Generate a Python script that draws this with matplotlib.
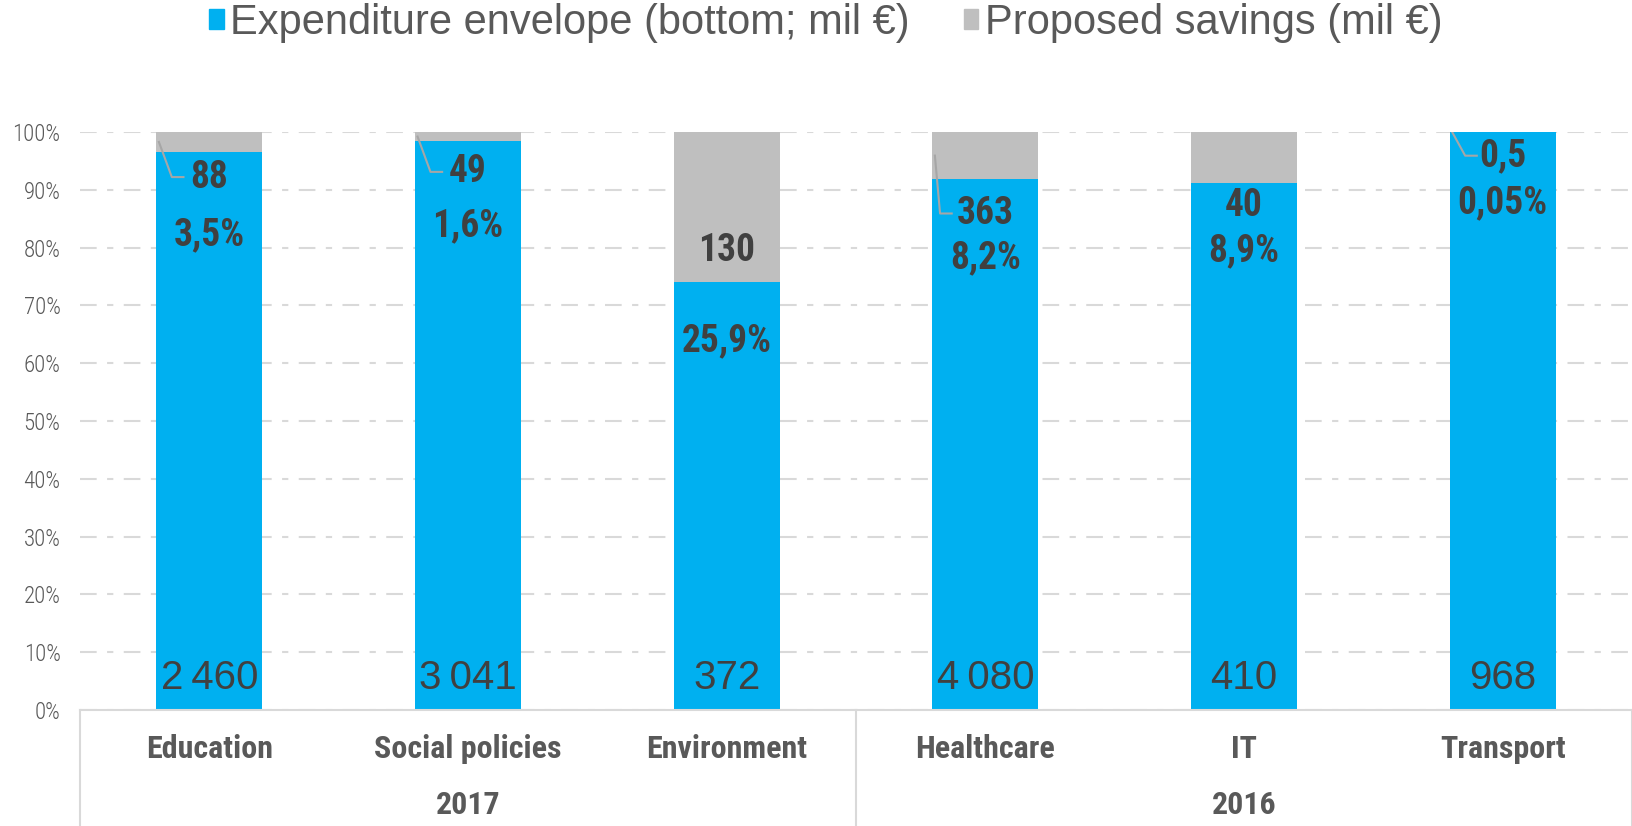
import matplotlib
matplotlib.use('Agg')
import matplotlib.pyplot as plt
from matplotlib.patches import Patch

# 窄体字体优先, 找不到就退回普通字体
narrow = ['Roboto Condensed', 'Archivo Narrow', 'Liberation Sans', 'DejaVu Sans']
plain = ['Liberation Sans', 'DejaVu Sans']
plt.rcParams['font.family'] = narrow
plt.rcParams['axes.unicode_minus'] = False

categories = ['Education', 'Social policies', 'Environment', 'Healthcare', 'IT', 'Transport']
years = ['2017', '2016']
expenditure = [2460, 3041, 372, 4080, 410, 968]
savings = [88, 49, 130, 363, 40, 0.5]
exp_labels = ['2\u2009460', '3\u2009041', '372', '4\u2009080', '410', '968']
sav_labels = ['88', '49', '130', '363', '40', '0,5']
pct_labels = ['3,5%', '1,6%', '25,9%', '8,2%', '8,9%', '0,05%']

# 标签的位置 (手动摆放)
sav_y = [0.922, 0.931, 0.795, 0.859, 0.872, 0.959]
pct_y = [0.823, 0.838, 0.638, 0.782, 0.795, 0.877]
leader = [True, True, False, True, False, True]

blue = '#00B0F0'
grey = '#BFBFBF'
dark = '#404040'
mid = '#595959'
line_c = '#D9D9D9'

total = [e + s for e, s in zip(expenditure, savings)]
share_exp = [e / t for e, t in zip(expenditure, total)]
share_sav = [s / t for s, t in zip(savings, total)]
x = list(range(len(categories)))
w = 0.41

fig = plt.figure(figsize=(16.32, 8.26), dpi=100)
ax = fig.add_axes([80 / 1632, 116 / 826, 1 - 80 / 1632, 578 / 826])

ax.bar(x, share_exp, width=w, color=blue, zorder=2)
ax.bar(x, share_sav, width=w, bottom=share_exp, color=grey, zorder=2)

ax.set_xlim(-0.5, len(categories) - 0.5)
ax.set_ylim(0, 1)
ax.set_yticks([i / 10 for i in range(11)])
ax.set_yticklabels(['%d%%' % (i * 10) for i in range(11)], fontsize=16.5, color=mid,
                   family=narrow, fontweight='light')
ax.yaxis.grid(True, color=line_c, linewidth=1.5, linestyle=(0, (8, 5, 3, 5)), zorder=0)
ax.set_xticks(x)
ax.set_xticklabels(categories, fontsize=23, fontweight='bold', color=mid)
ax.tick_params(axis='x', length=0, pad=17)
ax.tick_params(axis='y', length=0, pad=14)
for s in ['top', 'right', 'left']:
    ax.spines[s].set_visible(False)
ax.spines['bottom'].set_color(line_c)
ax.spines['bottom'].set_linewidth(1.5)

# 分组竖线和年份
tr = ax.get_xaxis_transform()
for xv in [-0.5, 2.5, 5.5]:
    ax.plot([xv, xv], [0, -0.21], transform=tr, color=line_c, lw=1.5, clip_on=False)
for i, yr in enumerate(years):
    ax.text(1 + 3 * i, -0.165, yr, transform=tr, ha='center', va='center',
            fontsize=23, fontweight='bold', color=mid)

# 数据标签
for i in x:
    ax.text(i, 0.056, exp_labels[i], ha='center', va='center', fontsize=29,
            color=dark, zorder=3, family=plain)
    ax.text(i, sav_y[i], sav_labels[i], ha='center', va='center', fontsize=27,
            fontweight='bold', color=dark, zorder=3)
    ax.text(i, pct_y[i], pct_labels[i], ha='center', va='center', fontsize=27,
            fontweight='bold', color=dark, zorder=3)
    if leader[i]:
        end = i - (0.13 if len(sav_labels[i]) == 3 and ',' not in sav_labels[i] else 0.1)
        top = share_exp[i] + share_sav[i] / 2
        ax.plot([i - w / 2 + 0.01, end - 0.045, end], [top, sav_y[i], sav_y[i]],
                color='#A6A6A6', lw=1.5, zorder=3)

handles = [Patch(color=blue), Patch(color=grey)]
fig.legend(handles, ['Expenditure envelope (bottom; mil €)', 'Proposed savings (mil €)'],
           loc='center', bbox_to_anchor=(0.506, 0.972), ncol=2, frameon=False,
           prop={'family': plain, 'size': 30}, labelcolor=mid,
           handlelength=0.35, handleheight=0.35, handletextpad=0.15,
           columnspacing=1.3, borderaxespad=0)

fig.savefig('out.png', dpi=100)
